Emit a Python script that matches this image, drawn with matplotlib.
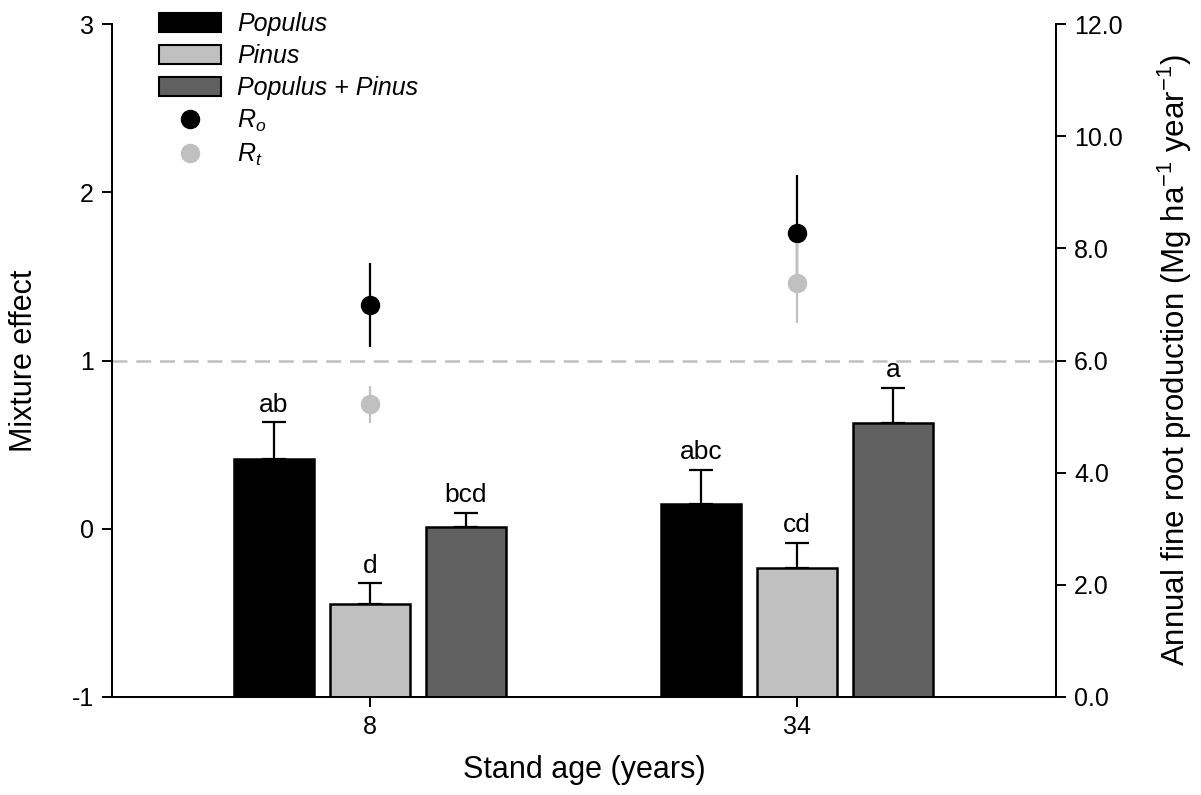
import matplotlib
matplotlib.use("Agg")
import matplotlib.pyplot as plt
from matplotlib.patches import Patch
from matplotlib.lines import Line2D
import numpy as np

plt.rcParams['font.family'] = ['Liberation Sans', 'DejaVu Sans']
plt.rcParams['mathtext.fontset'] = 'custom'
plt.rcParams['mathtext.rm'] = 'Liberation Sans'
plt.rcParams['mathtext.it'] = 'Liberation Sans:italic'
plt.rcParams['mathtext.default'] = 'it'

# Stand ages (x categories)
ages = ["8", "34"]

# Annual fine root production (Mg ha-1 year-1), mean and SE
populus = [4.24, 3.44]
populus_se = [0.66, 0.61]
pinus = [1.66, 2.30]
pinus_se = [0.37, 0.45]
mixed = [3.03, 4.89]
mixed_se = [0.25, 0.62]

# Significance letters
populus_lbl = ["ab", "abc"]
pinus_lbl = ["d", "cd"]
mixed_lbl = ["bcd", "a"]

# Mixture effects (observed and transgressive) with errors
ro = [1.33, 1.76]
ro_err = [0.25, 0.34]
rt = [0.74, 1.46]
rt_err = [0.11, 0.24]

fig = plt.figure(figsize=(12.01, 7.95), dpi=100)
ax1 = fig.add_axes([112/1201, 1-697/795, (1056-112)/1201, (697-24)/795])
ax2 = ax1.twinx()

x = np.arange(len(ages))
w = 0.187
step = 0.225

series = [
    (populus, populus_se, populus_lbl, "black", "Populus"),
    (pinus, pinus_se, pinus_lbl, "#c0c0c0", "Pinus"),
    (mixed, mixed_se, mixed_lbl, "#616161", "Populus + Pinus"),
]

for i, (vals, se, lbls, col, name) in enumerate(series):
    xs = x + (i - 1) * step
    ax2.bar(xs, vals, width=w, color=col, edgecolor="black", linewidth=1.8, zorder=3)
    ax2.errorbar(xs, vals, yerr=[np.zeros(len(vals)), se], fmt="none", ecolor="black",
                 elinewidth=1.6, capsize=8.6, capthick=1.6, zorder=2)
    for xi, v, s, t in zip(xs, vals, se, lbls):
        ax2.annotate(t, (xi, v + s), xytext=(0, 4), textcoords="offset points",
                     ha="center", va="bottom", fontsize=19)

# Reference line at mixture effect = 1
ax1.axhline(1, color="#c0c0c0", linestyle=(0, (6, 3.5)), linewidth=1.8, zorder=1)

ax1.errorbar(x, ro, yerr=ro_err, fmt="o", color="black", markersize=13,
             elinewidth=1.6, zorder=4)
ax1.errorbar(x, rt, yerr=rt_err, fmt="o", color="#c0c0c0", markersize=13,
             elinewidth=1.6, zorder=5)

ax1.set_xlim(-0.604, 1.607)
ax1.set_ylim(-1, 3)
ax2.set_ylim(0, 12)
ax1.set_yticks([-1, 0, 1, 2, 3])
ax1.set_yticklabels(["-1", "0", "1", "2", "3"])
ax2.set_yticks(np.arange(0, 13, 2))
ax2.set_yticklabels([f"{v:.1f}" for v in np.arange(0, 13, 2)])
ax1.set_xticks(x)
ax1.set_xticklabels(ages)

for ax in (ax1, ax2):
    ax.spines["top"].set_visible(False)
    for s in ("left", "right", "bottom"):
        ax.spines[s].set_linewidth(1.4)
    ax.tick_params(direction="out", length=7, width=1.4, labelsize=18, pad=6)

# Keep the bar axis below the point axis
ax1.set_zorder(ax2.get_zorder() + 1)
ax1.patch.set_visible(False)

ax1.set_ylabel("Mixture effect", fontsize=22)
ax1.yaxis.set_label_coords(-0.093, 0.5)
ax1.yaxis.label.set_va("center")
ax1.set_xlabel("Stand age (years)", fontsize=22)
ax1.xaxis.set_label_coords(0.5, -0.108)
ax1.xaxis.label.set_va("center")
ax2.set_ylabel("Annual fine root production (Mg ha$^{\\mathrm{-1}}$ year$^{\\mathrm{-1}}$)",
               fontsize=22.5)
ax2.yaxis.set_label_coords(1.126, 0.5)
ax2.yaxis.label.set_va("center")

handles = [Patch(facecolor=c, edgecolor="black", linewidth=1.5, label=n)
           for _, _, _, c, n in series]
handles += [
    Line2D([], [], linestyle="none", marker="o", color="black", markersize=13),
    Line2D([], [], linestyle="none", marker="o", color="#c0c0c0", markersize=13),
]
labels = ["Populus", "Pinus", "Populus + Pinus", "$R_o$", "$R_t$"]
leg = ax1.legend(handles, labels, loc="upper left", bbox_to_anchor=(0.0395, 1.033),
                 frameon=False, fontsize=18, handlelength=2.45, handleheight=0.8,
                 labelspacing=0.32, handletextpad=0.65, borderaxespad=0)
for t in leg.get_texts():
    t.set_fontstyle("italic")

fig.savefig("out.png", dpi=100)
